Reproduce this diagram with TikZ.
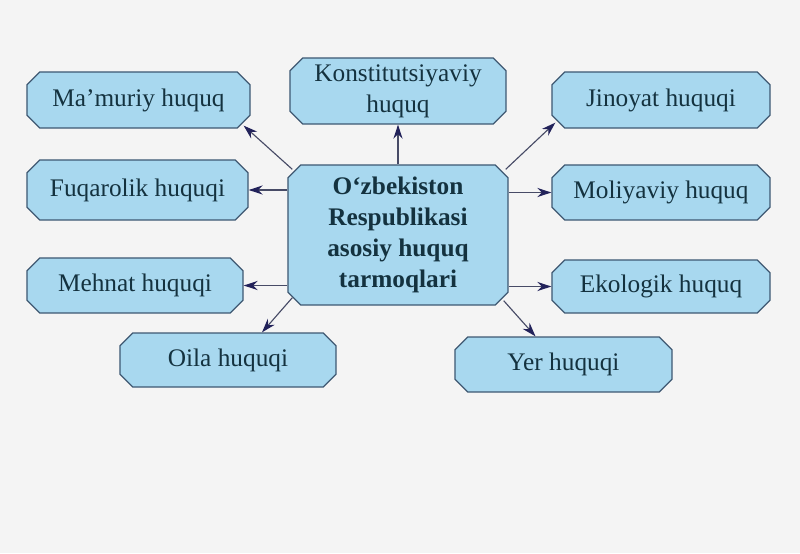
\documentclass[tikz,border=0pt]{standalone}
\usepackage{fontspec}
\setmainfont{Liberation Serif}
\usetikzlibrary{shapes.misc,arrows.meta,calc}

\definecolor{boxfill}{HTML}{A8D8EF}
\definecolor{boxline}{HTML}{3E5872}
\definecolor{boxtext}{HTML}{14323F}
\definecolor{arrline}{HTML}{474B66}
\definecolor{arrhead}{HTML}{22225A}
\definecolor{bgcol}{HTML}{F4F4F4}

\tikzset{
  box/.style={chamfered rectangle, chamfered rectangle xsep=0.16cm,
    chamfered rectangle ysep=0.16cm, draw=boxline, fill=boxfill,
    line width=0.9pt, text=boxtext, minimum width=5.45cm,
    minimum height=1.4cm, inner sep=0pt, align=center,
    font=\fontsize{18}{22}\selectfont},
  mainbox/.style={box, minimum width=5.5cm, minimum height=3.5cm,
    font=\fontsize{18}{22}\selectfont\bfseries},
  arr/.style={draw=arrline, line width=0.8pt,
    -{Stealth[length=10pt,width=6.5pt,color=arrhead]}}
}

\begin{document}
\begin{tikzpicture}[x=0.025cm, y=-0.025cm]
    % Background
    \fill[bgcol] (0,0) rectangle (800,553);
    \useasboundingbox (0,0) rectangle (800,553);

    % Central node
    \node[mainbox] (cbox) at (398,235) {O‘zbekiston\\Respublikasi\\asosiy huquq\\tarmoqlari};

    % Top row
    \node[box, minimum width=5.575cm] (mam) at (138.5,100) {Ma’muriy huquq};
    \node[box, minimum width=5.4cm, minimum height=1.65cm] (konst) at (398,91) {Konstitutsiyaviy\\huquq};
    \node[box] (jin) at (661,100) {Jinoyat huquqi};

    % Middle rows
    \node[box, minimum width=5.525cm, minimum height=1.5cm] (fuq) at (137.5,190) {Fuqarolik huquqi};
    \node[box, minimum height=1.375cm] (mol) at (661,192.5) {Moliyaviy huquq};
    \node[box, minimum width=5.4cm, minimum height=1.375cm] (meh) at (135,285.5) {Mehnat huquqi};
    \node[box, minimum height=1.325cm] (eko) at (661,286.5) {Ekologik huquq};

    % Bottom row
    \node[box, minimum width=5.4cm, minimum height=1.35cm] (oila) at (228,360) {Oila huquqi};
    \node[box, minimum width=5.425cm, minimum height=1.375cm] (yer) at (563.5,364.5) {Yer huquqi};

    % Arrows
    \draw[arr] ($(cbox.west |- cbox.north)+(5,5)$) -- ($(mam.east |- mam.south)+(-7,-3)$);
    \draw[arr] (cbox.north) -- (konst.south);
    \draw[arr] ($(cbox.east |- cbox.north)+(-3,5)$) -- ($(jin.west |- jin.south)+(4,-6)$);
    \draw[arr] (fuq.east -| cbox.west) -- (fuq.east);
    \draw[arr] (mol.west -| cbox.east) -- (mol.west);
    \draw[arr] (meh.east -| cbox.west) -- (meh.east);
    \draw[arr] (eko.west -| cbox.east) -- (eko.west);
    \draw[arr] ($(cbox.west |- cbox.south)+(5,-8)$) -- ($(oila.north)+(34,0)$);
    \draw[arr] ($(cbox.east |- cbox.south)+(-5,-5)$) -- ($(yer.north)+(-28,0)$);
\end{tikzpicture}
\end{document}
